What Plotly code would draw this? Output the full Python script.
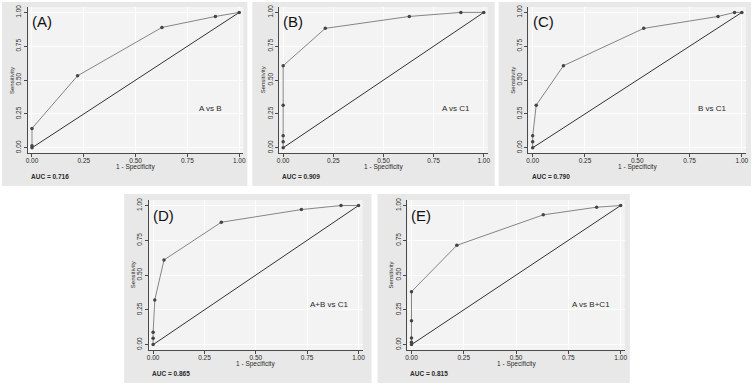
import plotly.graph_objects as go

# ---------------- data ----------------
panel_labels = ["(A)", "(B)", "(C)", "(D)", "(E)"]
comparisons = ["A vs B", "A vs C1", "B vs C1", "A+B vs C1", "A vs B+C1"]
auc_values = ["0.716", "0.909", "0.790", "0.865", "0.815"]

fpr_A = [0, 0, 0, 0.22, 0.627, 0.885, 1]
tpr_A = [0, 0.015, 0.143, 0.532, 0.889, 0.970, 1]

fpr_B = [0, 0, 0, 0, 0, 0.21, 0.629, 0.886, 1]
tpr_B = [0, 0.044, 0.089, 0.315, 0.606, 0.882, 0.970, 1, 1]

fpr_C = [0, 0, 0, 0.017, 0.147, 0.531, 0.886, 0.965, 1]
tpr_C = [0, 0.044, 0.089, 0.315, 0.606, 0.882, 0.970, 1, 1]

fpr_D = [0, 0, 0, 0.008, 0.053, 0.332, 0.722, 0.915, 1]
tpr_D = [0, 0.046, 0.089, 0.321, 0.609, 0.880, 0.971, 1, 1]

fpr_E = [0, 0, 0, 0, 0, 0.217, 0.630, 0.885, 1]
tpr_E = [0, 0.017, 0.048, 0.171, 0.381, 0.714, 0.933, 0.988, 1]

ticks = [0, 0.25, 0.5, 0.75, 1]
tick_text = ["0.00", "0.25", "0.50", "0.75", "1.00"]

fprs = [fpr_A, fpr_B, fpr_C, fpr_D, fpr_E]
tprs = [tpr_A, tpr_B, tpr_C, tpr_D, tpr_E]

# ---------------- layout geometry (pixels) ----------------
W, H = 756, 386
boxes = [(0, 0, 247, 185), (252, 0, 496, 185), (500, 0, 754, 185),
         (123, 193, 372, 383), (378, 193, 632, 383)]
plots = [(26, 5, 243, 152), (279, 5, 489, 152), (530, 5, 749, 152),
         (148, 199, 363, 350), (408, 199, 627, 350)]
XR = [-0.02, 1.02]
YR = [-0.04, 1.04]

def px(x):
    return x / W

def py(y):
    return 1 - y / H

FONT = "Liberation Sans, Arial, sans-serif"
OUTER = "#e8e8e8"
INNER = "#f3f3f3"
GRID = "#fdfdfd"
AXC = "#4a4a4a"
TXT = "#2a2a2a"

fig = go.Figure()
shapes = []
annotations = []
layout_axes = {}

for i in range(5):
    n = "" if i == 0 else str(i + 1)
    xa, ya = "x" + n, "y" + n
    bx0, by0, bx1, by1 = boxes[i]
    x0, y0, x1, y1 = plots[i]

    shapes.append(dict(type="rect", xref="paper", yref="paper",
                       x0=px(bx0), x1=px(bx1), y0=py(by1), y1=py(by0),
                       fillcolor=OUTER, line=dict(width=0), layer="below"))
    shapes.append(dict(type="rect", xref="paper", yref="paper",
                       x0=px(x0), x1=px(x1), y0=py(y1), y1=py(y0),
                       fillcolor=INNER, line=dict(width=0), layer="below"))

    # diagonal reference line
    fig.add_trace(go.Scatter(x=[0, 1], y=[0, 1], mode="lines",
                             line=dict(color="#333333", width=1),
                             xaxis=xa, yaxis=ya, showlegend=False,
                             hoverinfo="skip"))
    # ROC curve
    fig.add_trace(go.Scatter(x=fprs[i], y=tprs[i], mode="lines+markers",
                             line=dict(color="#858585", width=1),
                             marker=dict(color="#444444", size=3.5, symbol="circle"),
                             xaxis=xa, yaxis=ya, showlegend=False))

    common = dict(showline=True, linecolor=AXC, linewidth=1, mirror=False,
                  ticks="outside", ticklen=3, tickcolor=AXC, tickwidth=1,
                  tickvals=ticks, ticktext=tick_text,
                  tickfont=dict(family=FONT, size=6.5, color=TXT),
                  showgrid=True, gridcolor=GRID, gridwidth=1,
                  zeroline=False, fixedrange=True)
    layout_axes["xaxis" + n] = dict(common, domain=[px(x0), px(x1)], range=XR,
                                    anchor=ya, ticklabelstandoff=-2)
    layout_axes["yaxis" + n] = dict(common, domain=[py(y1), py(y0)], range=YR,
                                    anchor=xa, tickangle=-90)

    # axis titles
    annotations.append(dict(xref="paper", yref="paper",
                            x=px((x0 + x1) / 2), y=py(y1 + 14),
                            text="1 - Specificity", showarrow=False,
                            xanchor="center", yanchor="middle",
                            font=dict(family=FONT, size=6.5, color=TXT)))
    annotations.append(dict(xref="paper", yref="paper",
                            x=px(x0 - 16), y=py((y0 + y1) / 2),
                            text="Sensitivity", showarrow=False, textangle=-90,
                            xanchor="center", yanchor="middle",
                            font=dict(family=FONT, size=6, color=TXT)))
    # AUC text
    annotations.append(dict(xref=xa, yref="paper", x=0, y=py(y1 + 23),
                            text="<b>AUC = " + auc_values[i] + "</b>",
                            showarrow=False, xanchor="left", yanchor="middle",
                            xshift=-3,
                            font=dict(family=FONT, size=6.5, color=TXT)))
    # panel letter
    annotations.append(dict(xref=xa, yref=ya, x=0, y=0.93,
                            text=panel_labels[i], showarrow=False,
                            xanchor="left", yanchor="middle", xshift=-2,
                            font=dict(family=FONT, size=15, color="#111111")))
    # comparison label
    annotations.append(dict(xref=xa, yref=ya, x=0.86, y=0.29,
                            text=comparisons[i], showarrow=False,
                            xanchor="center", yanchor="middle",
                            font=dict(family=FONT, size=8, color=TXT)))

fig.update_layout(width=W, height=H, margin=dict(l=0, r=0, t=0, b=0),
                  paper_bgcolor="white", plot_bgcolor="rgba(0,0,0,0)",
                  shapes=shapes, annotations=annotations, showlegend=False,
                  **layout_axes)

fig.write_html("out.html")
